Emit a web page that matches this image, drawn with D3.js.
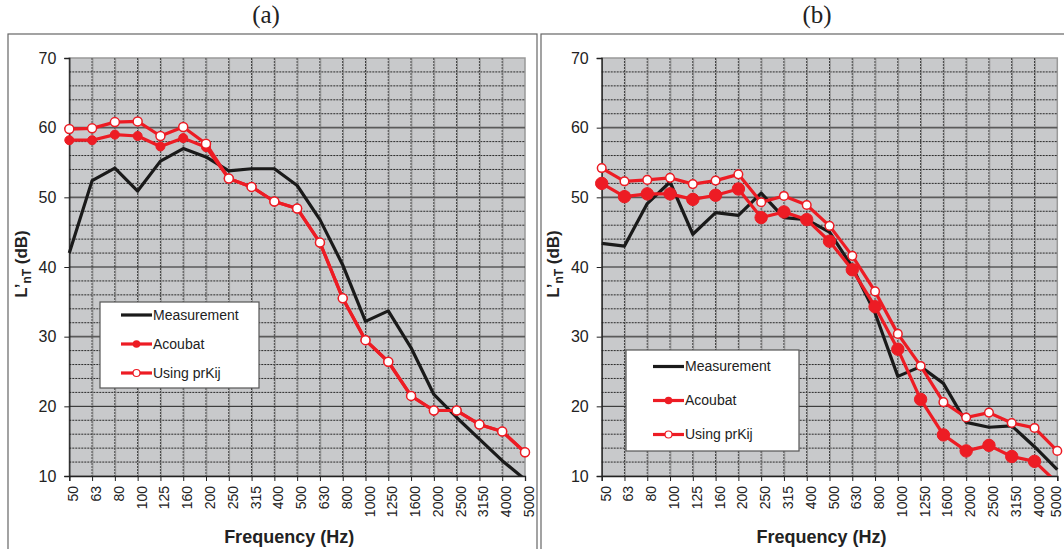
<!DOCTYPE html>
<html><head><meta charset="utf-8">
<script src="https://cdn.jsdelivr.net/npm/d3@7"></script>
<style>body{margin:0;background:#fff}svg{display:block}</style>
</head><body>
<svg id="c" width="1064" height="549"></svg>
<script>
const freqs = ["50","63","80","100","125","160","200","250","315","400","500","630","800","1000","1250","1600","2000","2500","3150","4000","5000"];
const yTicks = [10,20,30,40,50,60,70];
const seriesNames = ["Measurement","Acoubat","Using prKij"];

const measA    = [42.0,52.4,54.2,50.9,55.2,57.0,55.8,53.8,54.1,54.1,51.7,46.8,40.3,32.2,33.7,28.4,21.7,18.4,15.3,12.2,9.5];
const acoubatA = [58.2,58.2,59.0,58.8,57.3,58.5,57.2,52.7,51.5,49.4,48.4,43.5,35.5,29.5,26.4,21.5,19.4,19.4,17.4,16.4,13.4];
const prkijA   = [59.8,59.9,60.8,60.9,58.8,60.1,57.7,52.7,51.5,49.4,48.4,43.5,35.5,29.5,26.4,21.5,19.4,19.4,17.4,16.4,13.4];

const measB    = [43.4,43.0,49.1,52.2,44.7,47.8,47.4,50.6,47.1,46.8,45.0,40.0,33.4,24.3,25.7,23.3,17.7,17.0,17.2,14.2,10.9];
const acoubatB = [52.0,50.1,50.5,50.5,49.7,50.3,51.2,47.1,47.9,46.8,43.7,39.6,34.3,28.2,21.0,15.9,13.6,14.4,12.8,12.1,9.0];
const prkijB   = [54.2,52.3,52.5,52.8,51.9,52.4,53.3,49.3,50.2,48.9,45.9,41.6,36.5,30.4,25.8,20.6,18.4,19.1,17.6,16.9,13.6];

const RED = "#ed1c24", BLACK = "#1a1a1a";
const svg = d3.select("#c");
const fontSans = "'Liberation Sans', Arial, sans-serif";

function panel(cfg){
  const g = svg.append("g");
  g.append("rect").attr("x",cfg.bx).attr("y",34).attr("width",cfg.bw).attr("height",530)
    .attr("fill","none").attr("stroke","#666").attr("stroke-width",1.2);
  svg.append("text").attr("x",cfg.tx).attr("y",23).attr("text-anchor","middle")
    .attr("font-family","'Liberation Serif', 'Times New Roman', serif").attr("font-size",25).attr("fill","#222").text(cfg.title);

  const x = d3.scalePoint().domain(freqs).range([cfg.left,cfg.right]).padding(0);
  const y = d3.scaleLinear().domain([10,70]).range([476,58]);

  g.append("rect").attr("x",cfg.left).attr("y",58).attr("width",cfg.right-cfg.left).attr("height",418)
    .attr("fill","#c8c9cb").attr("stroke","#999").attr("stroke-width",1.5);

  const minors = d3.range(12,70,2).filter(v=>v%10!==0);
  g.selectAll(".hmin").data(minors).join("line")
    .attr("x1",cfg.left).attr("x2",cfg.right).attr("y1",d=>y(d)).attr("y2",d=>y(d))
    .attr("stroke","#2a2a2a").attr("stroke-width",1).attr("stroke-dasharray","2,1");
  g.selectAll(".vg").data(freqs.slice(1,-1)).join("line")
    .attr("x1",d=>x(d)).attr("x2",d=>x(d)).attr("y1",58).attr("y2",476)
    .attr("stroke","#333").attr("stroke-width",1).attr("stroke-dasharray","2,1");
  g.selectAll(".vg2").data(freqs.slice(1,-1)).join("line")
    .attr("x1",d=>x(d)+0.8).attr("x2",d=>x(d)+0.8).attr("y1",58).attr("y2",476)
    .attr("stroke","#888").attr("stroke-width",0.8);
  g.selectAll(".hmaj").data([20,30,40,50,60]).join("line")
    .attr("x1",cfg.left).attr("x2",cfg.right).attr("y1",d=>y(d)).attr("y2",d=>y(d))
    .attr("stroke",d=>d===20||d===40?"#222":"#5a5a5a").attr("stroke-width",d=>d===20||d===40?1:1.8);

  const ya = g.append("g").attr("transform",`translate(${cfg.left},0)`)
    .call(d3.axisLeft(y).tickValues(yTicks).tickSize(5).tickPadding(8));
  ya.select(".domain").attr("stroke","#222").attr("stroke-width",1.3);
  ya.selectAll("line").attr("stroke","#222");
  ya.selectAll("text").attr("font-family",fontSans).attr("font-size",16).attr("fill","#222");

  const xa = g.append("g").attr("transform","translate(0,476)")
    .call(d3.axisBottom(x).tickSize(5).tickPadding(0));
  xa.select(".domain").attr("stroke","#222").attr("stroke-width",1.3);
  xa.selectAll("line").attr("stroke","#222");
  xa.selectAll("text").attr("font-family",fontSans).attr("font-size",14).attr("fill","#222")
    .attr("text-anchor","end").attr("dy",null)
    .attr("transform",(d,i)=>`translate(${(cfg.lastShift!==undefined && i===freqs.length-1)?cfg.lastShift:3.5},10) rotate(-90)`);

  const yt = svg.append("text").attr("transform",`translate(${cfg.ylx},264) rotate(-90)`)
    .attr("text-anchor","middle").attr("font-family",fontSans).attr("font-weight","bold").attr("font-size",17).attr("fill","#222");
  yt.append("tspan").text("L’");
  yt.append("tspan").attr("font-size",12).attr("dy",4).text("nT");
  yt.append("tspan").attr("dy",-4).text(" (dB)");
  svg.append("text").attr("x",(cfg.left+cfg.right)/2-8).attr("y",543).attr("text-anchor","middle")
    .attr("font-family",fontSans).attr("font-weight","bold").attr("font-size",18).attr("fill","#222")
    .text("Frequency (Hz)");

  const cid = "clip"+cfg.title.replace(/\W/g,"");
  svg.append("clipPath").attr("id",cid).append("rect")
    .attr("x",cfg.left-10).attr("y",40).attr("width",cfg.right-cfg.left+20).attr("height",476-40);
  const plot = g.append("g").attr("clip-path",`url(#${cid})`);
  const line = d3.line().x((d,i)=>x(freqs[i])).y(d=>y(d));

  const drawSeries = (vals,color,marker,r)=>{
    plot.append("path").datum(vals).attr("d",line).attr("fill","none")
      .attr("stroke",color).attr("stroke-width",3.2).attr("stroke-linejoin","round");
    if(marker==="filled"){
      plot.selectAll(null).data(vals).join("circle").attr("cx",(d,i)=>x(freqs[i])).attr("cy",d=>y(d))
        .attr("r",r).attr("fill",RED).attr("stroke",RED).attr("stroke-width",1);
    } else if(marker==="open"){
      plot.selectAll(null).data(vals).join("circle").attr("cx",(d,i)=>x(freqs[i])).attr("cy",d=>y(d))
        .attr("r",r).attr("fill","#fff").attr("stroke",RED).attr("stroke-width",1.5);
    }
  };
  drawSeries(cfg.meas,BLACK,null,0);
  drawSeries(cfg.acoubat,RED,"filled",cfg.rf);
  drawSeries(cfg.prkij,RED,"open",cfg.ro);

  const L = cfg.leg;
  g.append("rect").attr("x",L.x).attr("y",L.y).attr("width",L.w).attr("height",L.h)
    .attr("fill","#fff").attr("stroke","#555").attr("stroke-width",1.2);
  seriesNames.forEach((name,i)=>{
    const yy = L.y0 + i*L.dy;
    const col = i===0?BLACK:RED;
    g.append("line").attr("x1",L.lx).attr("x2",L.lx+31).attr("y1",yy).attr("y2",yy)
      .attr("stroke",col).attr("stroke-width",3.2);
    if(i===1) g.append("circle").attr("cx",L.lx+15.5).attr("cy",yy).attr("r",3.8).attr("fill",RED);
    if(i===2) g.append("circle").attr("cx",L.lx+15.5).attr("cy",yy).attr("r",3.5).attr("fill","#fff").attr("stroke",RED).attr("stroke-width",1.2);
    g.append("text").attr("x",L.lx+32).attr("y",yy).attr("dy","0.35em")
      .attr("font-family",fontSans).attr("font-size",14).attr("fill","#222").text(name);
  });
}

panel({title:"(a)", bx:8, bw:529, tx:266, left:69.3, right:525, ylx:27,
  meas:measA, acoubat:acoubatA, prkij:prkijA, rf:4.5, ro:4.5,
  leg:{x:100,y:302,w:159,h:86,lx:121,y0:315,dy:29}});
panel({title:"(b)", bx:541, bw:540, tx:817, left:601.7, right:1057.3, ylx:559, lastShift:-1.5,
  meas:measB, acoubat:acoubatB, prkij:prkijB, rf:6.2, ro:4.3,
  leg:{x:626,y:350,w:173,h:101,lx:653,y0:366.5,dy:34}});
</script>
</body></html>
